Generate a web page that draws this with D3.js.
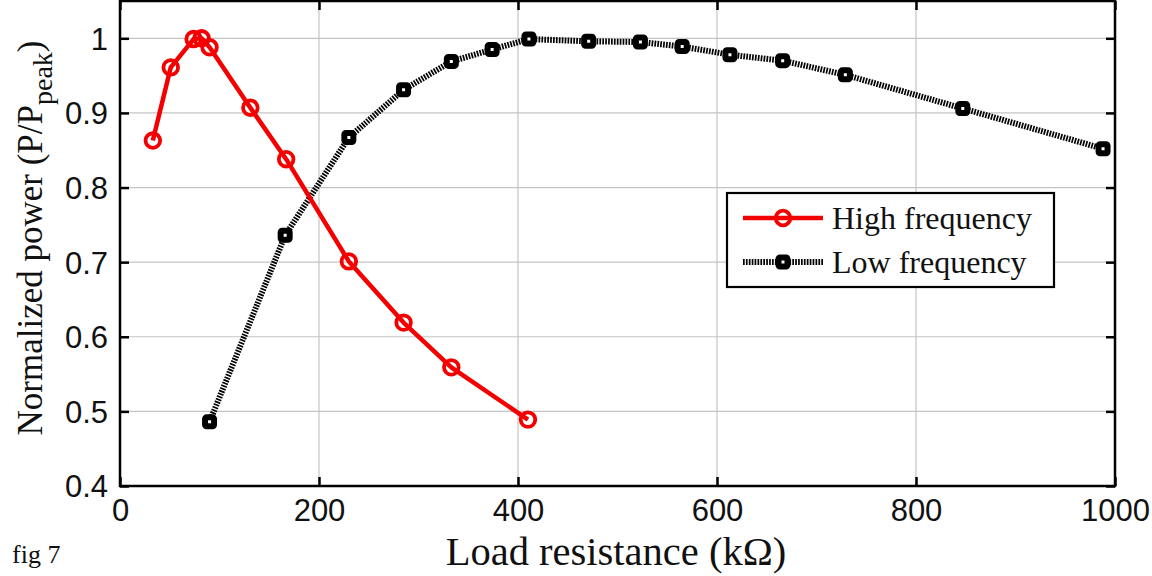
<!DOCTYPE html>
<html>
<head>
<meta charset="utf-8">
<script src="https://cdn.jsdelivr.net/npm/d3@7"></script>
<style>
  html, body { margin: 0; padding: 0; background: #fff; }
  svg { display: block; }
</style>
</head>
<body>
<svg id="chart" width="1152" height="576"></svg>
<script>
// Load resistance (kΩ) and normalized power for each excitation case
const highFreqR = [33, 51, 74, 82, 90, 131, 167, 230, 285, 333, 410];
const highFreqP = [0.863, 0.961, 0.999, 1.0, 0.988, 0.907, 0.838, 0.701, 0.619, 0.559, 0.489];
const lowFreqR = [90, 166, 230, 285, 333, 374, 411, 471, 523, 565, 613, 666, 729, 847, 988];
const lowFreqP = [0.486, 0.736, 0.867, 0.931, 0.969, 0.985, 0.999, 0.996, 0.995, 0.989, 0.978, 0.970, 0.951, 0.906, 0.852];
const xTicks = [0, 200, 400, 600, 800, 1000];
const yTicks = [0.4, 0.5, 0.6, 0.7, 0.8, 0.9, 1];
const seriesNames = ["High frequency", "Low frequency"];

const svg = d3.select("#chart");
const plotLeft = 120, plotRight = 1115, plotTop = 1, plotBottom = 486;

const x = d3.scaleLinear().domain([0, 1000]).range([plotLeft, plotRight]);
const y = d3.scaleLinear().domain([0.4, 1.05]).range([plotBottom, plotTop]);

// grid
const grid = svg.append("g");
grid.selectAll("line.gx").data(xTicks.slice(1, -1)).join("line")
  .attr("x1", d => x(d)).attr("x2", d => x(d))
  .attr("y1", plotTop).attr("y2", plotBottom)
  .attr("stroke", "#c4c4c4").attr("stroke-width", 1.2);
grid.selectAll("line.gy").data(yTicks.slice(1)).join("line")
  .attr("x1", plotLeft).attr("x2", plotRight)
  .attr("y1", d => y(d)).attr("y2", d => y(d))
  .attr("stroke", "#c4c4c4").attr("stroke-width", 1.2);

// axes with inward ticks on all four sides
const tickFont = "'Liberation Sans', Arial, sans-serif";
const xAxis = svg.append("g").attr("transform", `translate(0,${plotBottom})`)
  .call(d3.axisBottom(x).tickValues(xTicks).tickSize(-9).tickPadding(13).tickFormat(d3.format("d")));
const yAxis = svg.append("g").attr("transform", `translate(${plotLeft},0)`)
  .call(d3.axisLeft(y).tickValues(yTicks).tickSize(-9).tickPadding(12).tickFormat(d => d === 1 ? "1" : d3.format(".1f")(d)));
const xTop = svg.append("g").attr("transform", `translate(0,${plotTop})`)
  .call(d3.axisTop(x).tickValues(xTicks).tickSize(-9).tickFormat(""));
const yRight = svg.append("g").attr("transform", `translate(${plotRight},0)`)
  .call(d3.axisRight(y).tickValues(yTicks).tickSize(-9).tickFormat(""));

[xAxis, yAxis, xTop, yRight].forEach(g => {
  g.select(".domain").remove();
  g.selectAll(".tick line").attr("stroke", "#000").attr("stroke-width", 2.5);
  g.selectAll(".tick text").attr("font-family", tickFont).attr("font-size", 31).attr("fill", "#111");
});
xAxis.selectAll(".tick text").attr("dy", "0.71em");
yAxis.selectAll(".tick text").attr("dy", "0.35em");

svg.append("rect")
  .attr("x", plotLeft).attr("y", plotTop).attr("width", plotRight - plotLeft).attr("height", plotBottom - plotTop)
  .attr("fill", "none").attr("stroke", "#000").attr("stroke-width", 2.5);

// series
const line = d3.line().x(d => x(d[0])).y(d => y(d[1]));
const lowData = lowFreqR.map((r, i) => [r, lowFreqP[i]]);
const highData = highFreqR.map((r, i) => [r, highFreqP[i]]);

const lowStyle = { stroke: "#000", width: 6, dash: "1.7,1.2" };
const highStyle = { stroke: "#f50000", width: 4.5 };

svg.append("path").datum(lowData).attr("d", line)
  .attr("fill", "none").attr("stroke", lowStyle.stroke)
  .attr("stroke-width", lowStyle.width).attr("stroke-dasharray", lowStyle.dash);

function squareMarker(g, cx, cy) {
  g.append("rect")
    .attr("x", cx - 4.5).attr("y", cy - 4.5).attr("width", 9).attr("height", 9)
    .attr("rx", 1.5)
    .attr("fill", "#fff").attr("stroke", "#000").attr("stroke-width", 6);
}
function circleMarker(g, cx, cy) {
  g.append("circle").attr("cx", cx).attr("cy", cy).attr("r", 7.3)
    .attr("fill", "none").attr("stroke", highStyle.stroke).attr("stroke-width", 3.8);
}

const lowMarks = svg.append("g");
lowData.forEach(d => squareMarker(lowMarks, x(d[0]), y(d[1])));

svg.append("path").datum(highData).attr("d", line)
  .attr("fill", "none").attr("stroke", highStyle.stroke)
  .attr("stroke-width", highStyle.width).attr("stroke-linejoin", "round");
const highMarks = svg.append("g");
highData.forEach(d => circleMarker(highMarks, x(d[0]), y(d[1])));

// legend
const serif = "'Liberation Serif', 'Times New Roman', serif";
const lg = svg.append("g");
lg.append("rect").attr("x", 727).attr("y", 193).attr("width", 327).attr("height", 94)
  .attr("fill", "#fff").attr("stroke", "#000").attr("stroke-width", 2.2);
const rows = [
  { name: seriesNames[0], yy: 218, kind: "high" },
  { name: seriesNames[1], yy: 262, kind: "low" }
];
rows.forEach(r => {
  const ln = lg.append("line").attr("x1", 743).attr("x2", 823).attr("y1", r.yy).attr("y2", r.yy);
  if (r.kind === "high") {
    ln.attr("stroke", highStyle.stroke).attr("stroke-width", highStyle.width);
    circleMarker(lg, 783, r.yy);
  } else {
    ln.attr("stroke", lowStyle.stroke).attr("stroke-width", lowStyle.width).attr("stroke-dasharray", lowStyle.dash);
    squareMarker(lg, 783, r.yy);
  }
  lg.append("text").attr("x", 832).attr("y", r.yy + 11)
    .attr("font-family", serif).attr("font-size", 32).attr("fill", "#111").text(r.name);
});

// axis titles
svg.append("text").attr("x", 616).attr("y", 565).attr("text-anchor", "middle")
  .attr("font-family", serif).attr("font-size", 40.5).attr("fill", "#111")
  .text("Load resistance (kΩ)");

const yl = svg.append("text")
  .attr("transform", "translate(42,238) rotate(-90)")
  .attr("text-anchor", "middle")
  .attr("font-family", serif).attr("font-size", 35).attr("fill", "#111");
yl.append("tspan").text("Normalized power (P/P");
yl.append("tspan").attr("font-size", 28).attr("dy", 10).text("peak");
yl.append("tspan").attr("dy", -10).text(")");

svg.append("text").attr("x", 12).attr("y", 563)
  .attr("font-family", serif).attr("font-size", 26).attr("fill", "#111").text("fig 7");
</script>
</body>
</html>
